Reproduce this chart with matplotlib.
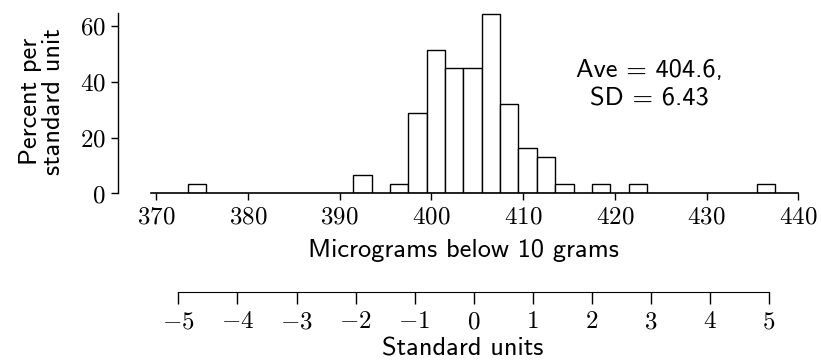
import numpy as np
import matplotlib.pyplot as plt
from matplotlib.ticker import FuncFormatter

plt.rcParams["mathtext.fontset"] = "cm"
plt.rcParams["font.family"] = ["cmss10", "DejaVu Sans"]
plt.rcParams["axes.unicode_minus"] = False

# Histogram bins (left edges, micrograms below 10 grams), width 2
bin_left = [373.5, 391.5, 395.5, 397.5, 399.5, 401.5, 403.5, 405.5,
            407.5, 409.5, 411.5, 413.5, 417.5, 421.5, 435.5]
bin_width = 2.0
# Percent per standard unit
heights = [3.2, 6.4, 3.2, 28.9, 51.4, 45.0, 45.0, 64.3,
           32.2, 16.1, 12.9, 3.2, 3.2, 3.2, 3.2]

x_ticks = [370, 380, 390, 400, 410, 420, 430, 440]
y_ticks = [0, 20, 40, 60]
su_ticks = [-5, -4, -3, -2, -1, 0, 1, 2, 3, 4, 5]

AVE = 404.6
SD = 6.43

XMIN, XMAX = 365.9, 441

math_fmt = FuncFormatter(lambda v, pos: f"${v:g}$")

fig = plt.figure(figsize=(8.21, 3.63), dpi=100)

# main histogram
ax = fig.add_axes([0.1442, 0.4675, 0.8394, 0.507])
ax.bar(bin_left, heights, width=bin_width, align="edge",
       facecolor="white", edgecolor="black", linewidth=1.0, zorder=2)
ax.set_xlim(XMIN, XMAX)
ax.set_ylim(0, 66)
ax.set_xticks(x_ticks)
ax.set_yticks(y_ticks)
ax.xaxis.set_major_formatter(math_fmt)
ax.yaxis.set_major_formatter(math_fmt)
for s in ["top", "right"]:
    ax.spines[s].set_visible(False)
ax.spines["bottom"].set_bounds(369.5, 440)
ax.spines["left"].set_bounds(0, 64.5)
ax.spines["bottom"].set_linewidth(1.2)
ax.spines["left"].set_linewidth(1.0)
ax.spines["bottom"].set_zorder(3)
ax.tick_params(axis="x", direction="out", length=5, width=1,
               labelsize=18, pad=4)
ax.tick_params(axis="y", direction="out", length=5, width=1,
               labelsize=18, pad=4)
ax.set_xlabel("Micrograms below 10 grams", fontsize=19, labelpad=7)
ax.set_ylabel("Percent per\nstandard unit", fontsize=19, labelpad=11,
              linespacing=1.0)
ax.text(423.8, 39.0, f"Ave = {AVE},\nSD = {SD}", ha="center", va="center",
        fontsize=19, linespacing=1.3)

# standard units scale, lined up with the data axis (z = (x - ave) / sd)
ax2 = fig.add_axes([0.1442, 0.1965, 0.8394, 0.01])
ax2.set_xlim((XMIN - AVE) / SD, (XMAX - AVE) / SD)
ax2.set_xticks(su_ticks)
ax2.xaxis.set_major_formatter(math_fmt)
ax2.set_yticks([])
for s in ["top", "right", "left"]:
    ax2.spines[s].set_visible(False)
ax2.spines["bottom"].set_bounds(su_ticks[0], su_ticks[-1])
ax2.patch.set_visible(False)
ax2.tick_params(axis="x", direction="out", length=8.5, width=1,
                labelsize=18, pad=5)
ax2.set_xlabel("Standard units", fontsize=19, labelpad=3)

fig.savefig("out.png", dpi=100)
